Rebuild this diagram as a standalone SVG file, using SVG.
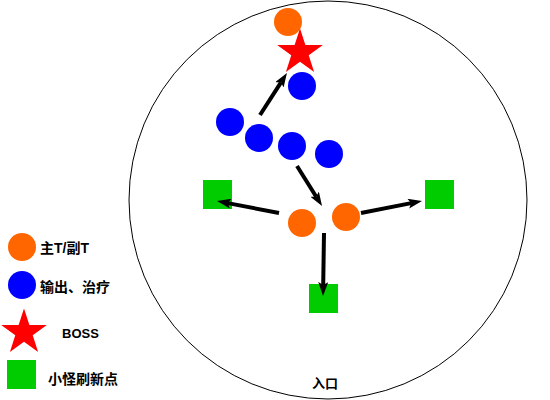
<svg xmlns="http://www.w3.org/2000/svg" xmlns:xlink="http://www.w3.org/1999/xlink" width="550" height="400" viewBox="0 0 550 400">
<style>
.orange{fill:#FF6600}
.blue{fill:#0000FF}
.red{fill:#FF0000}
.green{fill:#00CC00}
.arrow{stroke:#000;stroke-width:4;fill:none;marker-end:url(#ah)}
.lbl{font-family:"Liberation Sans","Noto Sans CJK SC",sans-serif;font-weight:bold;font-size:13px;fill:#000}
.big{font-size:14px}
</style>
<defs>
<marker id="ah" markerUnits="userSpaceOnUse" markerWidth="14" markerHeight="10" refX="3" refY="5" orient="auto" viewBox="0 0 14 10">
<path d="M0,0 L14,5 L0,10 L3,5 Z" fill="#000"/>
</marker>
<polygon id="star" points="0,-24 5.39,-7.42 22.83,-7.42 8.72,2.83 14.11,19.42 0,9.17 -14.11,19.42 -8.72,2.83 -22.83,-7.42 -5.39,-7.42"/>
</defs>
<rect width="550" height="400" fill="#fff"/>
<g id="room">
<circle cx="328" cy="200" r="199" fill="none" stroke="#000" stroke-width="1"/>
<text class="lbl" x="325" y="388" text-anchor="middle">入口</text>
</g>
<g id="tank-top"><circle class="orange" cx="288" cy="22" r="14"/></g>
<g id="boss"><use xlink:href="#star" class="red" x="300" y="52.5"/></g>
<g id="dps-1"><circle class="blue" cx="302" cy="86" r="14"/></g>
<g id="dps-2"><circle class="blue" cx="230" cy="122" r="14"/></g>
<g id="dps-3"><circle class="blue" cx="259" cy="138" r="14"/></g>
<g id="dps-4"><circle class="blue" cx="292" cy="146" r="14"/></g>
<g id="dps-5"><circle class="blue" cx="329" cy="154" r="14"/></g>
<g id="tank-1"><circle class="orange" cx="302" cy="223" r="14"/></g>
<g id="tank-2"><circle class="orange" cx="346" cy="217" r="14"/></g>
<g id="spawn-left"><rect class="green" x="203" y="180" width="29" height="29"/></g>
<g id="spawn-right"><rect class="green" x="425" y="180" width="29" height="29"/></g>
<g id="spawn-bottom"><rect class="green" x="309" y="284" width="29" height="29"/></g>
<g id="connectors">
<line class="arrow" x1="260" y1="115" x2="281" y2="82.3"/>
<line class="arrow" x1="297" y1="166" x2="316.2" y2="196.7"/>
<line class="arrow" x1="279" y1="213" x2="227.8" y2="203.1"/>
<line class="arrow" x1="361" y1="213" x2="411.2" y2="203.1"/>
<line class="arrow" x1="324" y1="233" x2="323.2" y2="285"/>
</g>
<g id="legend-tank"><circle class="orange" cx="22" cy="247" r="14"/><text class="lbl big" x="40" y="253">主T/副T</text></g>
<g id="legend-dps"><circle class="blue" cx="22" cy="285" r="14"/><text class="lbl big" x="40" y="292">输出、治疗</text></g>
<g id="legend-boss"><use xlink:href="#star" class="red" x="24" y="332.5"/><text class="lbl" x="62" y="338">BOSS</text></g>
<g id="legend-spawn"><rect class="green" x="7" y="360" width="29" height="29"/><text class="lbl big" x="48" y="384">小怪刷新点</text></g>
</svg>
